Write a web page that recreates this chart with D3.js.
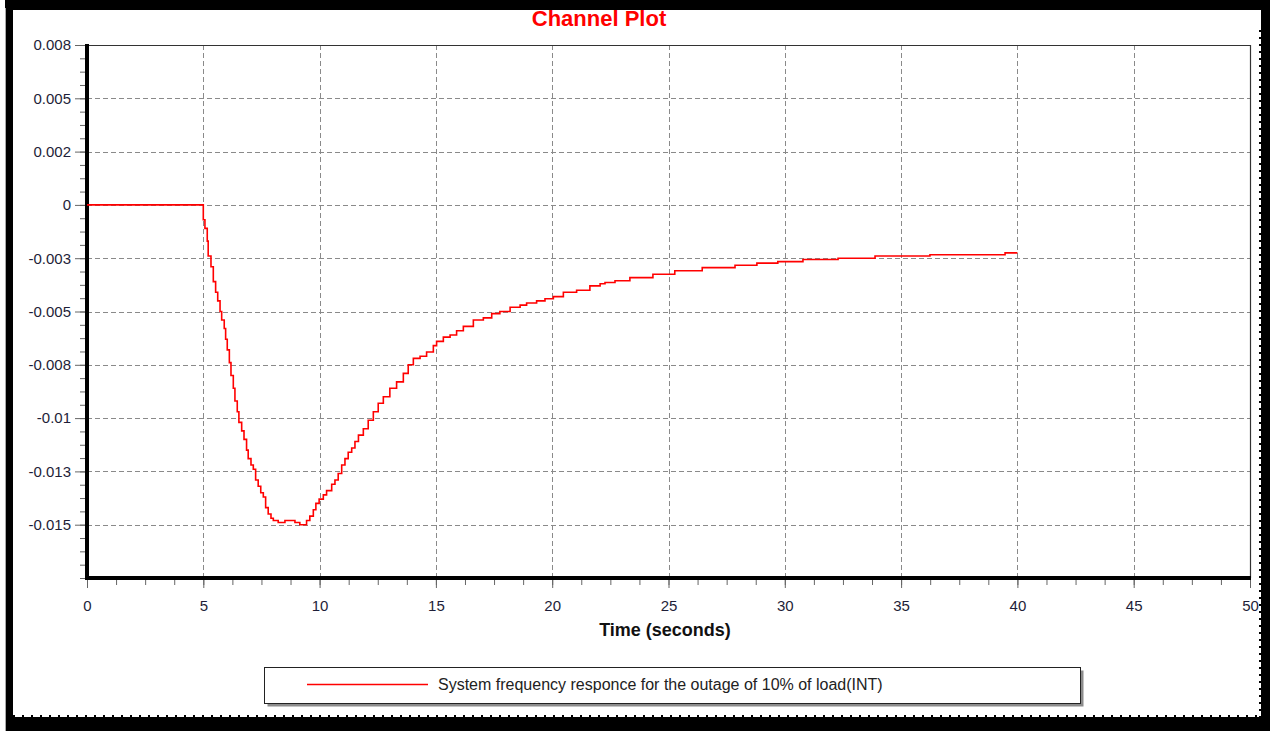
<!DOCTYPE html>
<html>
<head>
<meta charset="utf-8">
<script src="https://cdn.jsdelivr.net/npm/d3@7/dist/d3.min.js"></script>
<style>
  html, body { margin: 0; padding: 0; background: #fff; }
  svg { display: block; font-family: "Liberation Sans", Arial, sans-serif; }
</style>
</head>
<body>
<svg id="chart" width="1270" height="731"></svg>
<script>
// Frequency deviation after a 10% load outage (simulation channel output)
const timeSec = [
  0, 5.0, 5.07, 5.17, 5.21, 5.33, 5.43, 5.53, 5.62, 5.72, 5.79, 5.90, 5.96, 6.03,
  6.12, 6.19, 6.29, 6.36, 6.46, 6.53, 6.65, 6.75, 6.86, 6.93, 7.05, 7.15, 7.25,
  7.36, 7.47, 7.58, 7.68, 7.79, 7.91, 8.01, 8.22, 8.51, 8.72, 8.94, 9.15, 9.30,
  9.44, 9.58, 9.73, 9.84, 9.98, 10.16, 10.30, 10.52, 10.66, 10.80, 10.95, 11.09,
  11.23, 11.38, 11.52, 11.67, 11.88, 12.09, 12.31, 12.52, 12.74, 13.02, 13.31,
  13.60, 13.81, 14.03, 14.32, 14.60, 14.89, 15.03, 15.32, 15.61, 15.89, 16.18,
  16.61, 17.04, 17.40, 17.75, 18.19, 18.62, 18.90, 19.33, 19.69, 20.05, 20.48,
  21.05, 21.62, 22.06, 22.27, 22.70, 23.34, 24.33, 25.27, 26.45, 27.86, 28.80,
  29.70, 30.78, 32.29, 33.88, 36.24, 39.47, 40.0
];
const freqDev = [
  0, -0.0007, -0.0011, -0.0017, -0.0024, -0.0029, -0.0036, -0.0041, -0.0045,
  -0.0050, -0.0054, -0.0058, -0.0063, -0.0068, -0.0074, -0.0080, -0.0086, -0.0092,
  -0.0097, -0.0102, -0.0106, -0.0110, -0.0115, -0.0119, -0.0122, -0.0124, -0.0129,
  -0.0132, -0.0135, -0.0137, -0.0142, -0.0145, -0.0147, -0.0148, -0.0149, -0.0148,
  -0.0148, -0.0149, -0.0150, -0.0150, -0.0148, -0.0146, -0.0143, -0.0140, -0.0138,
  -0.0136, -0.0134, -0.0131, -0.0129, -0.0126, -0.0122, -0.0119, -0.0116, -0.0114,
  -0.0111, -0.0108, -0.0105, -0.0101, -0.0097, -0.0093, -0.0090, -0.0086, -0.0083,
  -0.0079, -0.0075, -0.0072, -0.0071, -0.0069, -0.0066, -0.0064, -0.0062, -0.0061,
  -0.0059, -0.0057, -0.0054, -0.0053, -0.0051, -0.0050, -0.0048, -0.0047, -0.0046,
  -0.0045, -0.0044, -0.0043, -0.0041, -0.0040, -0.0038, -0.0037, -0.00364, -0.00356,
  -0.00341, -0.00325, -0.00309, -0.00294, -0.00283, -0.00273, -0.00266, -0.00256,
  -0.0025, -0.0024, -0.00234, -0.00225, -0.00225
];

const xTickValues = [0, 5, 10, 15, 20, 25, 30, 35, 40, 45, 50];
const yTickValues = [0.0075, 0.005, 0.0025, 0, -0.0025, -0.005, -0.0075, -0.01, -0.0125, -0.015];
const yTickLabels = ["0.008", "0.005", "0.002", "0", "-0.003", "-0.005", "-0.008", "-0.01", "-0.013", "-0.015"];

const titleText = "Channel Plot";
const xAxisTitle = "Time (seconds)";
const seriesName = "System frequency responce for the outage of 10% of load(INT)";

const svg = d3.select("#chart");
const W = 1270, H = 731;

// outer black frame with notched inner edge
svg.append("rect").attr("x", 5).attr("y", 0).attr("width", W - 5).attr("height", H).attr("fill", "#000");
svg.append("line").attr("x1", 5.5).attr("x2", 5.5).attr("y1", 8).attr("y2", H).attr("stroke", "#aaa");
svg.append("rect").attr("x", 13).attr("y", 10).attr("width", 1248).attr("height", 707).attr("fill", "#fff");
svg.append("line").attr("x1", 13).attr("x2", 1261).attr("y1", 716).attr("y2", 716)
  .attr("stroke", "#000").attr("stroke-width", 2).attr("stroke-dasharray", "2,7");
svg.append("line").attr("x1", 1260).attr("x2", 1260).attr("y1", 30).attr("y2", 717)
  .attr("stroke", "#000").attr("stroke-width", 2).attr("stroke-dasharray", "2,5");

const plot = { left: 87, right: 1250, top: 45, bottom: 578 };

const x = d3.scaleLinear().domain([0, 50]).range([plot.left, plot.right]);
const y = d3.scaleLinear().domain([-0.0175, 0.0075]).range([plot.bottom, plot.top]);

// grid
const grid = svg.append("g").attr("stroke", "#8a8a8a").attr("stroke-width", 1).attr("stroke-dasharray", "5,3");
grid.selectAll("line.v").data(xTickValues.filter(d => d > 0 && d < 50)).join("line")
  .attr("class", "v")
  .attr("x1", d => Math.round(x(d)) + 0.5).attr("x2", d => Math.round(x(d)) + 0.5)
  .attr("y1", plot.top).attr("y2", plot.bottom);
grid.selectAll("line.h").data(yTickValues.filter(d => d < 0.0075)).join("line")
  .attr("class", "h")
  .attr("x1", plot.left).attr("x2", plot.right)
  .attr("y1", d => Math.round(y(d)) + 0.5).attr("y2", d => Math.round(y(d)) + 0.5);

// plot border (top and right)
svg.append("path")
  .attr("d", `M${plot.left},${plot.top + 0.5}H${plot.right + 0.5}V${plot.bottom}`)
  .attr("fill", "none").attr("stroke", "#333").attr("stroke-width", 1.2);

// minor ticks
const yMinor = d3.range(0, 41).map(i => 0.0075 - i * 0.000625);
const xMinor = d3.range(0, 41).map(i => i * 1.25);

const yMinorAxis = d3.axisLeft(y).tickValues(yMinor).tickSize(5).tickFormat("");
svg.append("g").attr("transform", `translate(${plot.left - 2},0)`).call(yMinorAxis)
  .call(g => g.select(".domain").remove())
  .call(g => g.selectAll("line").attr("stroke", "#666"));

const xMinorAxis = d3.axisBottom(x).tickValues(xMinor).tickSize(5).tickFormat("");
svg.append("g").attr("transform", `translate(0,${plot.bottom + 2})`).call(xMinorAxis)
  .call(g => g.select(".domain").remove())
  .call(g => g.selectAll("line").attr("stroke", "#666"));

// major ticks + labels
const yAxis = d3.axisLeft(y).tickValues(yTickValues).tickSize(10).tickPadding(4)
  .tickFormat((d, i) => yTickLabels[i]);
svg.append("g").attr("transform", `translate(${plot.left - 2},0)`).call(yAxis)
  .call(g => g.select(".domain").remove())
  .call(g => g.selectAll("line").attr("stroke", "#666"))
  .call(g => g.selectAll("text").attr("fill", "#1e1e38").attr("font-size", 15)
    .attr("font-family", "'Liberation Sans', Arial, sans-serif"));

const xAxis = d3.axisBottom(x).tickValues(xTickValues).tickSize(8).tickPadding(12)
  .tickFormat(d3.format("d"));
svg.append("g").attr("transform", `translate(0,${plot.bottom + 2})`).call(xAxis)
  .call(g => g.select(".domain").remove())
  .call(g => g.selectAll("line").attr("stroke", "#666"))
  .call(g => g.selectAll("text").attr("fill", "#1e1e38").attr("font-size", 15)
    .attr("font-family", "'Liberation Sans', Arial, sans-serif"));

// heavy axis lines (left and bottom)
svg.append("path")
  .attr("d", `M${plot.left},${plot.top - 1}V${plot.bottom}H${plot.right + 1}`)
  .attr("fill", "none").attr("stroke", "#000").attr("stroke-width", 4);

// series as a stepped trace
const pts = timeSec.map((t, i) => [t, freqDev[i]]);
const line = d3.line().x(d => x(d[0])).y(d => y(d[1])).curve(d3.curveStepAfter);
svg.append("path").datum(pts)
  .attr("d", line).attr("fill", "none").attr("stroke", "#ff0000").attr("stroke-width", 1.6);

// title
svg.append("text").attr("x", 599).attr("y", 25.5).attr("text-anchor", "middle")
  .attr("font-size", 22).attr("font-weight", "bold").attr("fill", "#ff0000")
  .text(titleText);

// x axis title
svg.append("text").attr("x", 665).attr("y", 636).attr("text-anchor", "middle")
  .attr("font-size", 18).attr("font-weight", "bold").attr("fill", "#111")
  .text(xAxisTitle);

// legend
const lg = svg.append("g");
lg.append("rect").attr("x", 267.5).attr("y", 670.5).attr("width", 816).attr("height", 36).attr("fill", "#8c8c8c");
lg.append("rect").attr("x", 264.5).attr("y", 667.5).attr("width", 816).attr("height", 36)
  .attr("fill", "#fff").attr("stroke", "#222").attr("stroke-width", 1);
lg.append("line").attr("x1", 307).attr("x2", 428).attr("y1", 684.5).attr("y2", 684.5)
  .attr("stroke", "#ff0000").attr("stroke-width", 1.3);
lg.append("text").attr("x", 438).attr("y", 690).attr("font-size", 16).attr("fill", "#222")
  .text(seriesName);
</script>
</body>
</html>
